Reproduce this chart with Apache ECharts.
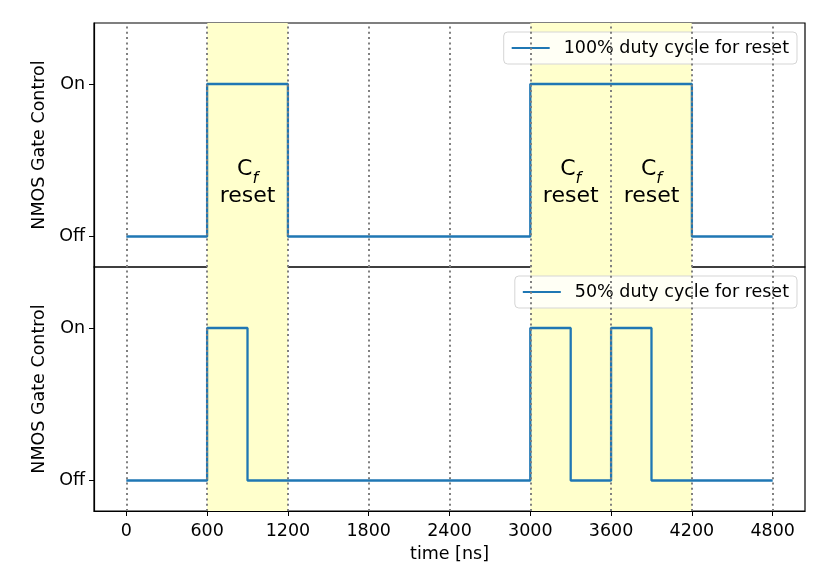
<!DOCTYPE html>
<html>
<head>
<meta charset="utf-8">
<script src="https://cdn.jsdelivr.net/npm/echarts@6/dist/echarts.min.js"></script>
<style>
  html, body { margin: 0; padding: 0; background: #fff; }
  #chart { width: 822px; height: 587px; }
</style>
</head>
<body>
<div id="chart"></div>
<script>
// data
var xTicks = [0, 600, 1200, 1800, 2400, 3000, 3600, 4200, 4800];
var yTickValues = [0, 1];
var yTickLabels = ['Off', 'On'];

// step points: level holds from this time until the next one
var fullTimes = [0, 600, 1200, 3000, 4200, 4800];
var fullLevels = [0, 1, 0, 1, 0, 0];
var halfTimes = [0, 600, 900, 3000, 3300, 3600, 3900, 4800];
var halfLevels = [0, 1, 0, 1, 0, 1, 0, 0];

var resetWindows = [[600, 1200], [3000, 4200]];
var noteTimes = [900, 3300, 3900];
var noteLevel = 0.35;

var seriesNames = ['100% duty cycle for reset', '50% duty cycle for reset'];

var FONT = 'DejaVu Sans';
var FS = 17.5;
var BLUE = '#1f77b4';

var chart = echarts.init(document.getElementById('chart'), null, { renderer: 'canvas' });

function pairs(ts, vs) {
    var out = [];
    for (var i = 0; i < ts.length; i++) {
        out.push([ts[i], vs[i]]);
    }
    return out;
}

function makeX(idx, showLabels) {
    return {
        type: 'value', gridIndex: idx, min: -240, max: 5040,
        name: showLabels ? 'time [ns]' : '',
        nameLocation: 'middle', nameGap: 34,
        nameTextStyle: { fontFamily: FONT, fontSize: FS, color: '#000' },
        axisLine: { show: showLabels, onZero: false, lineStyle: { color: '#000', width: 1.2 } },
        axisTick: { show: showLabels, customValues: xTicks, length: 5, lineStyle: { color: '#000' } },
        axisLabel: { show: showLabels, customValues: xTicks, margin: 11,
            fontFamily: FONT, fontSize: FS, color: '#000',
            formatter: function (v) { return String(v); } },
        splitLine: { show: false }
    };
}

function makeY(idx) {
    return {
        type: 'value', gridIndex: idx, min: -0.2, max: 1.4,
        name: 'NMOS Gate Control', nameLocation: 'middle', nameGap: 40,
        nameTextStyle: { fontFamily: FONT, fontSize: FS, color: '#000' },
        axisLine: { show: true, onZero: false, lineStyle: { color: '#000', width: 1.2 } },
        axisTick: { show: true, customValues: yTickValues, length: 5, lineStyle: { color: '#000' } },
        axisLabel: {
            customValues: yTickValues, margin: 9,
            fontFamily: FONT, fontSize: FS, color: '#000',
            formatter: function (v) { return yTickLabels[yTickValues.indexOf(v)]; }
        },
        splitLine: { show: false }
    };
}

//信号线 + 阴影 + 虚线
function makeSignal(idx, name, ts, vs) {
    return {
        name: name, type: 'line', xAxisIndex: idx, yAxisIndex: idx,
        step: 'end', showSymbol: false, symbol: 'none',
        data: pairs(ts, vs),
        lineStyle: { color: BLUE, width: 2.3 },
        itemStyle: { color: BLUE },
        animation: false,
        markArea: {
            silent: true,
            itemStyle: { color: '#ffffcc' },
            data: resetWindows.map(function (w) { return [{ xAxis: w[0] }, { xAxis: w[1] }]; })
        },
        markLine: {
            silent: true, symbol: 'none', label: { show: false },
            lineStyle: { color: '#808080', type: [2, 3.3], width: 2 },
            data: xTicks.map(function (t) { return { xAxis: t }; })
        }
    };
}

var noteSeries = {
    type: 'scatter', xAxisIndex: 0, yAxisIndex: 0,
    symbolSize: 0, silent: true, animation: false,
    itemStyle: { opacity: 1 },
    data: noteTimes.map(function (t) { return [t, noteLevel]; }),
    label: {
        show: true, position: 'inside', color: '#000', opacity: 1,
        textBorderWidth: 0,
        formatter: '{c|C}{f|f}\n{r|reset}',
        rich: {
            c: { fontFamily: FONT, fontSize: 22, color: '#000', lineHeight: 27, textBorderWidth: 0 },
            f: { fontFamily: FONT, fontSize: 16, fontStyle: 'italic', color: '#000', textBorderWidth: 0,
                 lineHeight: 27, verticalAlign: 'bottom', padding: [0, 0, -4, 0] },
            r: { fontFamily: FONT, fontSize: 22, color: '#000', lineHeight: 27, textBorderWidth: 0 }
        }
    }
};

var option = {
    backgroundColor: '#fff',
    animation: false,
    grid: [
        { left: 94, right: 17, top: 23, height: 244, show: true, borderColor: '#000', borderWidth: 1.2 },
        { left: 94, right: 17, top: 267, height: 244, show: true, borderColor: '#000', borderWidth: 1.2 }
    ],
    xAxis: [makeX(0, false), makeX(1, true)],
    yAxis: [makeY(0), makeY(1)],
    legend: [
        { data: [seriesNames[0]], right: 25, top: 32 },
        { data: [seriesNames[1]], right: 25, top: 276 }
    ].map(function (l) {
        l.icon = 'rect';
        l.itemWidth = 38; l.itemHeight = 2.2;
        l.padding = [7, 8, 7, 8];
        l.borderColor = '#d5d5d5'; l.borderWidth = 1; l.borderRadius = 4;
        l.backgroundColor = 'rgba(255,255,255,0.8)';
        l.textStyle = { fontFamily: FONT, fontSize: FS, color: '#000', padding: [0, 0, 0, 9] };
        l.selectedMode = false;
        return l;
    }),
    series: [
        makeSignal(0, seriesNames[0], fullTimes, fullLevels),
        makeSignal(1, seriesNames[1], halfTimes, halfLevels),
        noteSeries
    ]
};

chart.setOption(option);
</script>
</body>
</html>
